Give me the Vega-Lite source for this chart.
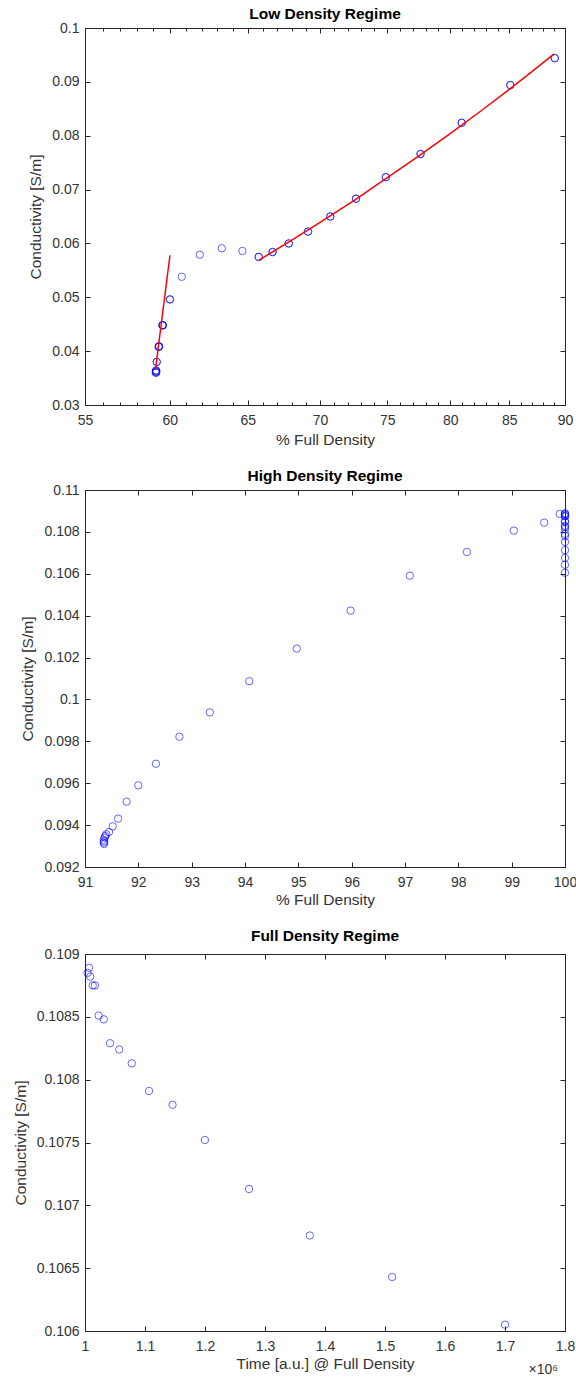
{
  "$schema": "https://vega.github.io/schema/vega-lite/v6.json",
  "padding": {"left": 12, "top": 6, "right": 0, "bottom": 0},
  "spacing": 20,
  "datasets": {
    "low": [
      {"d": 59.15, "c": 0.0360, "fit": true},
      {"d": 59.17, "c": 0.0362, "fit": true},
      {"d": 59.16, "c": 0.0364, "fit": true},
      {"d": 59.20, "c": 0.0380, "fit": true},
      {"d": 59.32, "c": 0.0408, "fit": true},
      {"d": 59.34, "c": 0.0409, "fit": true},
      {"d": 59.55, "c": 0.0448, "fit": true},
      {"d": 59.57, "c": 0.0448, "fit": true},
      {"d": 60.01, "c": 0.0496, "fit": true},
      {"d": 60.74, "c": 0.0538, "fit": false},
      {"d": 61.87, "c": 0.0579, "fit": false},
      {"d": 63.29, "c": 0.0591, "fit": false},
      {"d": 64.64, "c": 0.0586, "fit": false},
      {"d": 65.73, "c": 0.0575, "fit": true},
      {"d": 66.67, "c": 0.0584, "fit": true},
      {"d": 67.79, "c": 0.0600, "fit": true},
      {"d": 69.14, "c": 0.0622, "fit": true},
      {"d": 70.74, "c": 0.0650, "fit": true},
      {"d": 72.63, "c": 0.0683, "fit": true},
      {"d": 74.89, "c": 0.0723, "fit": true},
      {"d": 77.60, "c": 0.0766, "fit": true},
      {"d": 80.95, "c": 0.0824, "fit": true},
      {"d": 85.09, "c": 0.0894, "fit": true},
      {"d": 89.06, "c": 0.0944, "fit": true}
    ],
    "lowfit": [
      {"seg": "A", "d": 59.12, "c": 0.0365},
      {"seg": "A", "d": 60.01, "c": 0.0578},
      {"seg": "B", "d": 65.75, "c": 0.0569},
      {"seg": "B", "d": 68.0, "c": 0.0606},
      {"seg": "B", "d": 70.0, "c": 0.0639},
      {"seg": "B", "d": 72.5, "c": 0.0680},
      {"seg": "B", "d": 75.0, "c": 0.0722},
      {"seg": "B", "d": 77.5, "c": 0.0763},
      {"seg": "B", "d": 80.0, "c": 0.0804},
      {"seg": "B", "d": 82.5, "c": 0.0845},
      {"seg": "B", "d": 85.0, "c": 0.0886},
      {"seg": "B", "d": 87.0, "c": 0.0919},
      {"seg": "B", "d": 89.0, "c": 0.0952}
    ],
    "high": [
      {"d": 91.36, "c": 0.09310},
      {"d": 91.35, "c": 0.09316},
      {"d": 91.36, "c": 0.09322},
      {"d": 91.35, "c": 0.09330},
      {"d": 91.37, "c": 0.09340},
      {"d": 91.38, "c": 0.09348},
      {"d": 91.40, "c": 0.09356},
      {"d": 91.45, "c": 0.09367},
      {"d": 91.52, "c": 0.09394},
      {"d": 91.62, "c": 0.09431},
      {"d": 91.78, "c": 0.09512},
      {"d": 92.00, "c": 0.09590},
      {"d": 92.33, "c": 0.09693},
      {"d": 92.77, "c": 0.09822},
      {"d": 93.34, "c": 0.09938},
      {"d": 94.08, "c": 0.10087},
      {"d": 94.97, "c": 0.10243},
      {"d": 95.98, "c": 0.10424},
      {"d": 97.09, "c": 0.10591},
      {"d": 98.16, "c": 0.10704},
      {"d": 99.04, "c": 0.10806},
      {"d": 99.61, "c": 0.10844},
      {"d": 99.90, "c": 0.10886},
      {"d": 100, "c": 0.10889},
      {"d": 100, "c": 0.10885},
      {"d": 100, "c": 0.10882},
      {"d": 100, "c": 0.10875},
      {"d": 100, "c": 0.10875},
      {"d": 100, "c": 0.10851},
      {"d": 100, "c": 0.10848},
      {"d": 100, "c": 0.10829},
      {"d": 100, "c": 0.10824},
      {"d": 100, "c": 0.10813},
      {"d": 100, "c": 0.10791},
      {"d": 100, "c": 0.10780},
      {"d": 100, "c": 0.10752},
      {"d": 100, "c": 0.10713},
      {"d": 100, "c": 0.10676},
      {"d": 100, "c": 0.10643},
      {"d": 100, "c": 0.10605}
    ],
    "full": [
      {"t": 1004300, "c": 0.10885},
      {"t": 1006700, "c": 0.10889},
      {"t": 1008600, "c": 0.10882},
      {"t": 1012900, "c": 0.10875},
      {"t": 1016600, "c": 0.10875},
      {"t": 1022700, "c": 0.10851},
      {"t": 1031300, "c": 0.10848},
      {"t": 1041700, "c": 0.10829},
      {"t": 1057000, "c": 0.10824},
      {"t": 1077900, "c": 0.10813},
      {"t": 1106700, "c": 0.10791},
      {"t": 1145900, "c": 0.10780},
      {"t": 1199800, "c": 0.10752},
      {"t": 1273400, "c": 0.10713},
      {"t": 1374600, "c": 0.10676},
      {"t": 1511900, "c": 0.10643},
      {"t": 1700100, "c": 0.10605}
    ],
    "exponent": [{"label": "×10⁶"}]
  },
  "vconcat": [
    {
      "width": 480,
      "height": 377,
      "title": "Low Density Regime",
      "layer": [
        {
          "data": {"name": "low"},
          "mark": {"type": "point", "shape": "circle", "filled": false, "color": "#0000ff", "size": 55, "strokeWidth": 1, "opacity": 0.6},
          "encoding": {
            "x": {"field": "d", "type": "quantitative",
              "scale": {"type": "log", "domain": [55, 90], "nice": false},
              "axis": {"title": "% Full Density", "format": "d",
                "values": [55,56,57,58,59,60,61,62,63,64,65,66,67,68,69,70,71,72,73,74,75,76,77,78,79,80,81,82,83,84,85,86,87,88,89,90],
                "labelExpr": "datum.value % 5 === 0 ? datum.label : ''",
                "tickSize": {"condition": {"test": "datum.value % 5 === 0", "value": -5}, "value": -3}}},
            "y": {"field": "c", "type": "quantitative",
              "scale": {"domain": [0.03, 0.1], "nice": false, "zero": false},
              "axis": {"title": "Conductivity [S/m]", "format": ".2~f", "values": [0.03, 0.04, 0.05, 0.06, 0.07, 0.08, 0.09, 0.1]}}
          }
        },
        {
          "data": {"name": "low"},
          "transform": [{"filter": "datum.fit"}],
          "mark": {"type": "point", "shape": "circle", "filled": false, "color": "#0000ff", "size": 55, "strokeWidth": 1, "opacity": 0.6},
          "encoding": {
            "x": {"field": "d", "type": "quantitative", "scale": {"type": "log", "domain": [55, 90], "nice": false}, "axis": null},
            "y": {"field": "c", "type": "quantitative", "scale": {"domain": [0.03, 0.1], "nice": false, "zero": false}, "axis": null}
          }
        },
        {
          "data": {"name": "lowfit"},
          "mark": {"type": "line", "color": "#ff0000", "strokeWidth": 1.5},
          "encoding": {
            "x": {"field": "d", "type": "quantitative",
              "scale": {"type": "log", "domain": [55, 90], "nice": false},
              "axis": {"orient": "top", "labels": false, "title": null,
                "values": [55,56,57,58,59,60,61,62,63,64,65,66,67,68,69,70,71,72,73,74,75,76,77,78,79,80,81,82,83,84,85,86,87,88,89,90],
                "tickSize": {"condition": {"test": "datum.value % 5 === 0", "value": -5}, "value": -3}}},
            "y": {"field": "c", "type": "quantitative",
              "scale": {"domain": [0.03, 0.1], "nice": false, "zero": false},
              "axis": {"orient": "right", "labels": false, "title": null, "values": [0.03, 0.04, 0.05, 0.06, 0.07, 0.08, 0.09, 0.1]}},
            "detail": {"field": "seg"}
          }
        }
      ],
      "resolve": {"axis": {"x": "independent", "y": "independent"}}
    },
    {
      "width": 480,
      "height": 377,
      "title": "High Density Regime",
      "layer": [
        {
          "data": {"name": "high"},
          "mark": {"type": "point", "shape": "circle", "filled": false, "color": "#0000ff", "size": 55, "strokeWidth": 1, "opacity": 0.6},
          "encoding": {
            "x": {"field": "d", "type": "quantitative",
              "scale": {"domain": [91, 100], "nice": false, "zero": false},
              "axis": {"title": "% Full Density", "format": "d", "values": [91,92,93,94,95,96,97,98,99,100]}},
            "y": {"field": "c", "type": "quantitative",
              "scale": {"domain": [0.092, 0.11], "nice": false, "zero": false},
              "axis": {"title": "Conductivity [S/m]", "format": ".3~f", "values": [0.092, 0.094, 0.096, 0.098, 0.1, 0.102, 0.104, 0.106, 0.108, 0.11]}}
          }
        },
        {
          "data": {"name": "high"},
          "mark": {"type": "point", "shape": "circle", "filled": false, "size": 55, "opacity": 0},
          "encoding": {
            "x": {"field": "d", "type": "quantitative",
              "scale": {"domain": [91, 100], "nice": false, "zero": false},
              "axis": {"orient": "top", "labels": false, "title": null, "values": [91,92,93,94,95,96,97,98,99,100]}},
            "y": {"field": "c", "type": "quantitative",
              "scale": {"domain": [0.092, 0.11], "nice": false, "zero": false},
              "axis": {"orient": "right", "labels": false, "title": null, "values": [0.092, 0.094, 0.096, 0.098, 0.1, 0.102, 0.104, 0.106, 0.108, 0.11]}}
          }
        }
      ],
      "resolve": {"axis": {"x": "independent", "y": "independent"}}
    },
    {
      "width": 480,
      "height": 377,
      "title": {"text": "Full Density Regime", "offset": 3},
      "layer": [
        {
          "data": {"name": "full"},
          "mark": {"type": "point", "shape": "circle", "filled": false, "color": "#0000ff", "size": 55, "strokeWidth": 1, "opacity": 0.6},
          "encoding": {
            "x": {"field": "t", "type": "quantitative",
              "scale": {"domain": [1000000, 1800000], "nice": false, "zero": false},
              "axis": {"title": "Time [a.u.] @ Full Density",
                "values": [1000000, 1100000, 1200000, 1300000, 1400000, 1500000, 1600000, 1700000, 1800000],
                "labelExpr": "format(datum.value / 1000000, '.1~f')"}},
            "y": {"field": "c", "type": "quantitative",
              "scale": {"domain": [0.106, 0.109], "nice": false, "zero": false},
              "axis": {"title": "Conductivity [S/m]", "format": ".4~f", "values": [0.106, 0.1065, 0.107, 0.1075, 0.108, 0.1085, 0.109]}}
          }
        },
        {
          "data": {"name": "full"},
          "mark": {"type": "point", "shape": "circle", "filled": false, "size": 55, "opacity": 0},
          "encoding": {
            "x": {"field": "t", "type": "quantitative",
              "scale": {"domain": [1000000, 1800000], "nice": false, "zero": false},
              "axis": {"orient": "top", "labels": false, "title": null,
                "values": [1000000, 1100000, 1200000, 1300000, 1400000, 1500000, 1600000, 1700000, 1800000]}},
            "y": {"field": "c", "type": "quantitative",
              "scale": {"domain": [0.106, 0.109], "nice": false, "zero": false},
              "axis": {"orient": "right", "labels": false, "title": null, "values": [0.106, 0.1065, 0.107, 0.1075, 0.108, 0.1085, 0.109]}}
          }
        },
        {
          "data": {"name": "exponent"},
          "mark": {"type": "text", "align": "right", "baseline": "middle", "dx": -7, "dy": 39, "fontSize": 14, "color": "#333333", "font": "Liberation Sans"},
          "encoding": {
            "x": {"datum": 1800000, "type": "quantitative", "axis": null},
            "y": {"datum": 0.106, "type": "quantitative", "axis": null},
            "text": {"field": "label"}
          }
        }
      ],
      "resolve": {"axis": {"x": "independent", "y": "independent"}}
    }
  ],
  "config": {
    "font": "Liberation Sans",
    "view": {"stroke": "#262626", "strokeWidth": 1},
    "axis": {
      "domain": false, "grid": false,
      "labelFont": "Liberation Sans", "labelFontSize": 14, "labelColor": "#333333",
      "titleFont": "Liberation Sans", "titleFontSize": 15.5, "titleFontWeight": "normal", "titleColor": "#333333",
      "tickColor": "#262626", "tickSize": -5, "labelFlush": false, "labelOverlap": false
    },
    "axisX": {"labelPadding": 13, "titlePadding": 3},
    "axisY": {"labelPadding": 11, "titlePadding": 8},
    "title": {"font": "Liberation Sans", "fontSize": 15.5, "fontWeight": "bold", "color": "#000000", "offset": -1, "frame": "group"}
  }
}
